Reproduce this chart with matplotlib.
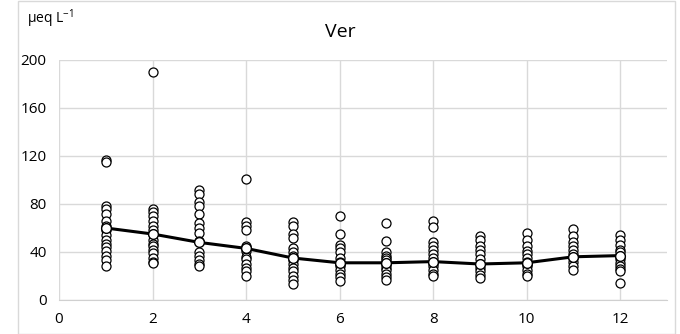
import matplotlib.pyplot as plt
from matplotlib.patches import Rectangle

plt.rcParams['font.family'] = ['Open Sans', 'DejaVu Sans']
plt.rcParams['mathtext.default'] = 'regular'

months = list(range(1, 13))

obs = {
    1: [117, 115, 78, 76, 72, 66, 62, 58, 54, 50, 47, 44, 41, 37, 33, 28],
    2: [190, 76, 73, 70, 66, 62, 58, 55, 50, 47, 45, 42, 39, 35, 32, 31],
    3: [92, 88, 82, 78, 72, 64, 60, 56, 49, 40, 37, 33, 30, 28],
    4: [101, 65, 62, 58, 45, 43, 41, 36, 34, 30, 27, 24, 20],
    5: [65, 62, 55, 52, 43, 40, 37, 33, 30, 27, 24, 20, 17, 13],
    6: [70, 55, 46, 43, 40, 35, 32, 30, 28, 25, 22, 19, 16],
    7: [64, 49, 40, 37, 35, 33, 31, 29, 27, 25, 22, 19, 17],
    8: [66, 61, 48, 45, 42, 38, 35, 31, 28, 25, 22, 20],
    9: [53, 50, 45, 42, 38, 34, 30, 27, 24, 21, 18],
    10: [56, 50, 45, 41, 38, 35, 32, 30, 28, 25, 22, 20],
    11: [59, 53, 48, 45, 42, 38, 35, 32, 28, 25],
    12: [54, 50, 46, 42, 40, 37, 34, 31, 28, 26, 24, 14],
}

mean_vals = [60, 55, 48, 43, 35, 31, 31, 32, 30, 31, 36, 37]

fig = plt.figure(figsize=(6.8, 3.34), dpi=100)
ax = fig.add_axes([0.0868, 0.1018, 0.894, 0.7186])

for m in months:
    ax.plot([m] * len(obs[m]), obs[m], 'o', ms=6.5, mfc='white', mec='black', mew=0.9,
            linestyle='none', zorder=3)

ax.plot(months, mean_vals, '-o', color='black', lw=2.2, ms=7, mfc='white', mec='black',
        mew=1.0, zorder=4)

ax.set_xlim(0, 13)
ax.set_ylim(0, 200)
ax.set_xticks(range(0, 13, 2))
ax.set_yticks(range(0, 201, 40))
ax.grid(True, color='#d9d9d9', lw=1)
ax.set_axisbelow(True)
for s in ['top', 'right', 'left']:
    ax.spines[s].set_visible(False)
ax.spines['bottom'].set_color('#d0d0d0')
ax.tick_params(length=0, labelsize=11, pad=9)

fig.text(0.5, 0.905, 'Ver', ha='center', va='center', fontsize=14)
fig.text(0.04, 0.945, 'µeq L$^{-1}$', ha='left', va='center', fontsize=10)

fig.patches.append(Rectangle((0.027, 0.0), 0.966, 0.997, transform=fig.transFigure,
                             fill=False, edgecolor='#d9d9d9', lw=1))

fig.savefig('out.png', dpi=100)
